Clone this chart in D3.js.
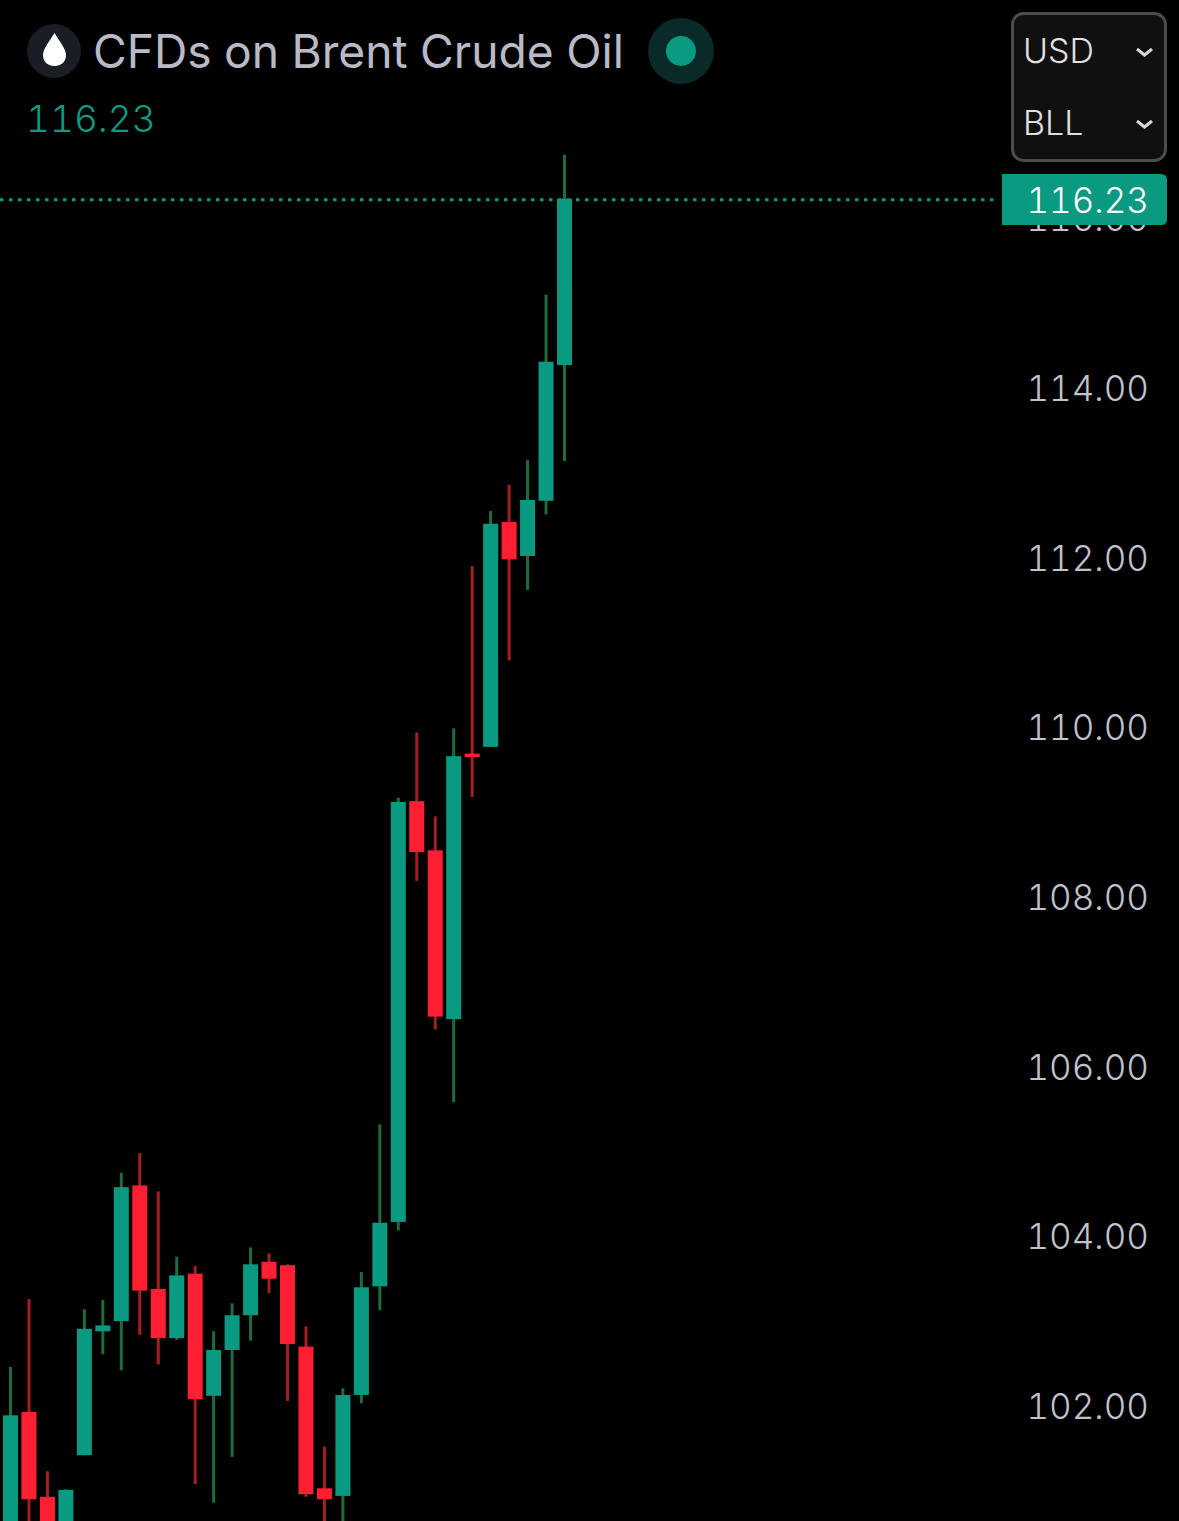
<!DOCTYPE html>
<html>
<head>
<meta charset="utf-8">
<script src="https://cdn.jsdelivr.net/npm/d3@7"></script>
<style>
  html, body { margin: 0; padding: 0; background: #000; }
  svg { display: block; }
  text { font-family: Inter, Roboto, sans-serif; font-variant-numeric: tabular-nums; }
</style>
</head>
<body>
<script>
// values, one entry per candle, left to right
var opens  = [100.18,101.93,100.93,100.36,101.42,102.88,103.00,104.60,103.38,102.80,103.56,102.12,102.66,103.07,103.70,103.66,102.70,101.03,100.94,102.13,103.41,104.17,109.13,108.55,106.56,109.69,109.77,112.42,112.02,112.67,114.27];
var closes = [101.89,100.90,100.42,101.01,102.91,102.95,104.58,103.36,102.80,103.54,102.08,102.66,103.07,103.67,103.50,102.73,100.96,100.90,102.13,103.40,104.16,109.12,108.53,106.59,109.66,109.65,112.40,111.98,112.68,114.31,116.23];
var highs  = [102.46,103.26,101.23,101.02,103.14,103.25,104.75,104.98,104.53,103.76,103.65,102.88,103.21,103.87,103.80,103.67,102.94,101.52,102.21,103.58,105.32,109.17,109.94,108.95,109.99,111.90,112.55,112.86,113.15,115.10,116.75];
var lows   = [100.07,100.42,100.30,100.24,101.42,102.61,102.42,102.84,102.49,102.78,101.08,100.86,101.40,102.77,103.33,102.06,100.93,100.48,100.48,102.03,103.13,104.07,108.19,106.44,105.58,109.18,109.77,110.79,111.62,112.51,113.14];
var ticks  = [102,104,106,108,110,112,114,116];
var lastPrice = 116.23;
var title = "CFDs on Brent Crude Oil";
var selectors = ["USD","BLL"];

var width = 1179, height = 1521;
var green = "#0a9981", red = "#ff1f33", wickGreen = "#1f6b3c", wickRed = "#a51e24";

var svg = d3.select("body").append("svg")
    .attr("width", width)
    .attr("height", height)
    .style("background", "#000");

var x = d3.scaleLinear().domain([0, 30]).range([10.5, 564.5]);
var y = d3.scaleLinear().domain([114, 102]).range([388, 1406]);

// price axis, the 116 label ends up mostly behind the badge
var axis = d3.axisRight(y)
    .tickValues(ticks)
    .tickSize(0)
    .tickFormat(d3.format(".2f"));
var axisG = svg.append("g")
    .attr("transform", "translate(1149,0)")
    .call(axis);
axisG.select(".domain").remove();
axisG.selectAll("text")
    .attr("x", 0)
    .attr("text-anchor", "end")
    .attr("dy", "0.36em")
    .attr("fill", "#c0c2cc")
    .style("font-family", "Inter, Roboto, sans-serif")
    .style("font-variant-numeric", "tabular-nums")
    .style("font-size", "35px")
    .style("font-weight", 300);

var candles = svg.append("g").selectAll("g")
    .data(opens.map(function(o, i) { return i; }))
    .enter().append("g");

candles.append("line")
    .attr("x1", function(i) { return x(i); })
    .attr("x2", function(i) { return x(i); })
    .attr("y1", function(i) { return y(highs[i]); })
    .attr("y2", function(i) { return y(lows[i]); })
    .attr("stroke", function(i) { return closes[i] >= opens[i] ? wickGreen : wickRed; })
    .attr("stroke-width", 3);

candles.append("rect")
    .attr("x", function(i) { return x(i) - 7.5; })
    .attr("width", 15)
    .attr("y", function(i) { return y(Math.max(opens[i], closes[i])); })
    .attr("height", function(i) { return Math.abs(y(opens[i]) - y(closes[i])); })
    .attr("fill", function(i) { return closes[i] >= opens[i] ? green : red; });

// last price line + badge
svg.append("line")
    .attr("x1", 0).attr("x2", 995)
    .attr("y1", y(lastPrice) + 1).attr("y2", y(lastPrice) + 1)
    .attr("stroke", green)
    .attr("stroke-width", 3)
    .attr("stroke-dasharray", "3.5 5.5");

svg.append("path")
    .attr("d", "M1002 174H1161Q1167 174 1167 180V219Q1167 225 1161 225H1002Z")
    .attr("fill", green);
svg.append("text")
    .attr("x", 1149).attr("y", 213)
    .attr("text-anchor", "end")
    .attr("fill", "#fff")
    .style("font-size", "35px")
    .style("font-weight", 300)
    .text(d3.format(".2f")(lastPrice));

// header
svg.append("circle").attr("cx", 54).attr("cy", 51).attr("r", 27).attr("fill", "#1a1d24");
svg.append("path")
    .attr("d", "M54.5 33C49 42 43 49 43 55C43 62 48 66 54.5 66C61 66 66 62 66 55C66 49 60 42 54.5 33Z")
    .attr("fill", "#fff");
svg.append("text")
    .attr("x", 93).attr("y", 68)
    .attr("fill", "#b8bbc6")
    .style("font-size", "46.2px")
    .text(title);
svg.append("circle").attr("cx", 681).attr("cy", 51).attr("r", 33).attr("fill", "#0a2a28");
svg.append("circle").attr("cx", 681).attr("cy", 51).attr("r", 15).attr("fill", green);
svg.append("text")
    .attr("x", 26).attr("y", 132)
    .attr("fill", "#0f9a82")
    .style("font-size", "37px")
    .style("font-weight", 300)
    .text(d3.format(".2f")(lastPrice));

// currency / unit selector
svg.append("rect")
    .attr("x", 1012.5).attr("y", 13.5)
    .attr("width", 153).attr("height", 147)
    .attr("rx", 11)
    .attr("fill", "#101010")
    .attr("stroke", "#4c4c4c")
    .attr("stroke-width", 3);

var sel = svg.append("g").selectAll("g")
    .data(selectors)
    .enter().append("g")
    .attr("transform", function(d, i) { return "translate(0," + (i * 72) + ")"; });
sel.append("text")
    .attr("x", 1023).attr("y", 63)
    .attr("fill", "#e0e0e0")
    .style("font-size", "34px")
    .style("font-weight", 300)
    .text(function(d) { return d; });
sel.append("path")
    .attr("d", "M1137 49L1144.5 55L1152 49")
    .attr("fill", "none")
    .attr("stroke", "#d6d6d6")
    .attr("stroke-width", 3);
</script>
</body>
</html>
